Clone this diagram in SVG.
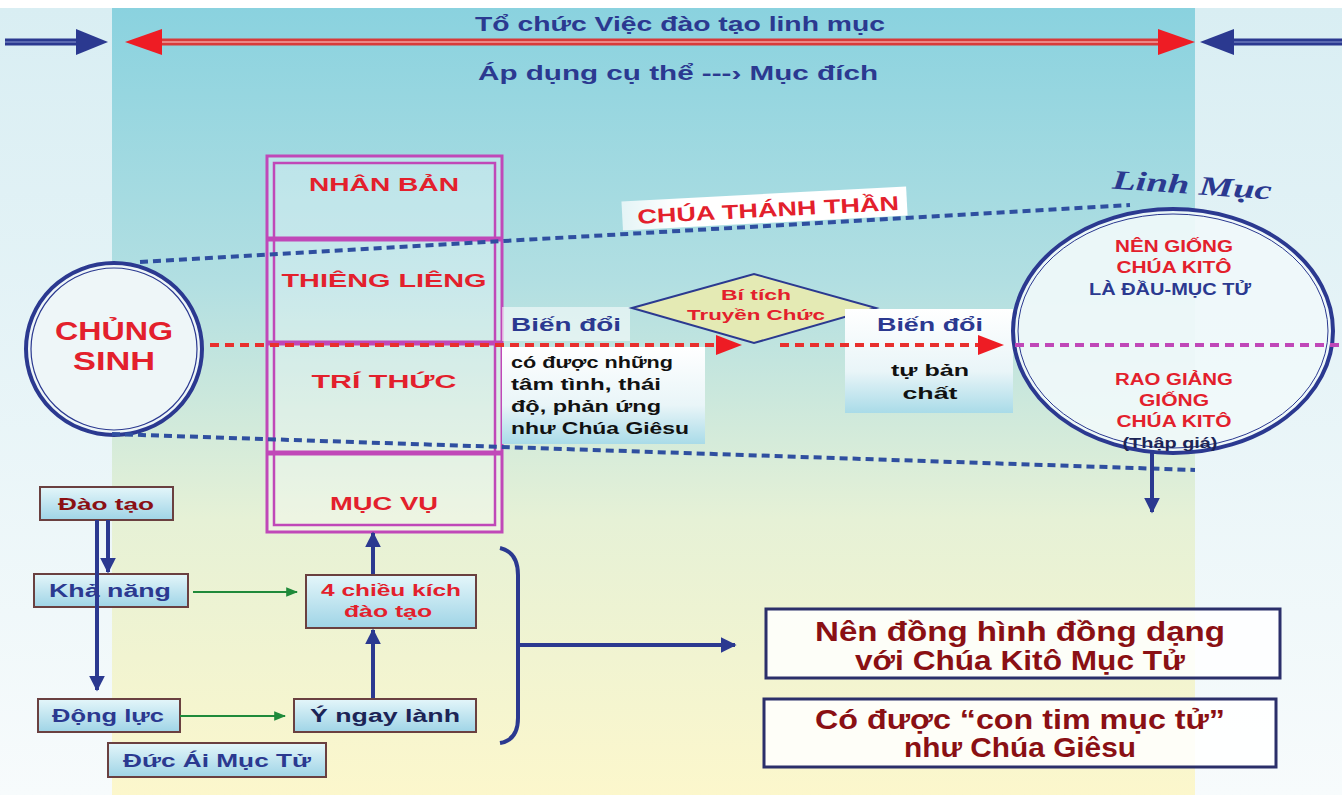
<svg xmlns="http://www.w3.org/2000/svg" width="1342" height="799" viewBox="0 0 1342 799">
<defs>
  <linearGradient id="bgMain" x1="0" y1="0" x2="0" y2="1">
    <stop offset="0" stop-color="#8ad2df"/>
    <stop offset="0.35" stop-color="#b2dfe2"/>
    <stop offset="0.65" stop-color="#e6f1d6"/>
    <stop offset="1" stop-color="#fcf7cc"/>
  </linearGradient>
  <linearGradient id="bgSide" x1="0" y1="0" x2="0" y2="1">
    <stop offset="0" stop-color="#d9eef3"/>
    <stop offset="1" stop-color="#f7fbfc"/>
  </linearGradient>
  <linearGradient id="boxFill" x1="0" y1="0" x2="0" y2="1">
    <stop offset="0" stop-color="#e4f6fa"/>
    <stop offset="1" stop-color="#9fd4e6"/>
  </linearGradient>
  <linearGradient id="textBox" x1="0" y1="0" x2="0" y2="1">
    <stop offset="0" stop-color="#ffffff"/>
    <stop offset="0.6" stop-color="#e9f5f8"/>
    <stop offset="1" stop-color="#a9dbe8"/>
  </linearGradient>
  <linearGradient id="banner" x1="0" y1="0" x2="1" y2="0">
    <stop offset="0" stop-color="#ffffff" stop-opacity="0.7"/>
    <stop offset="0.2" stop-color="#ffffff"/>
    <stop offset="1" stop-color="#ffffff"/>
  </linearGradient>
  <marker id="navyHead" viewBox="0 0 10 10" refX="9" refY="5" markerWidth="4" markerHeight="4" orient="auto">
    <path d="M0,0 L10,5 L0,10 z" fill="#2b3990"/>
  </marker>
  <marker id="greenHead" viewBox="0 0 10 10" refX="9" refY="5" markerWidth="6" markerHeight="6" orient="auto">
    <path d="M0,1 L10,5 L0,9 z" fill="#1f8a3a"/>
  </marker>
</defs>
<style>
  .t { font-family: "Liberation Sans", Arial, sans-serif; font-weight: bold; text-anchor: middle; }
  .st { text-anchor: start; }
  .red { fill: #e3202c; }
  .dred { fill: #8a1014; }
  .blk { fill: #111111; }
  .blu { fill: #2b3990; }
  .bdot { fill: none; stroke: #2f4fa0; stroke-width: 4; stroke-dasharray: 8 5; }
  .rdot { fill: none; stroke: #e8302e; stroke-width: 4; stroke-dasharray: 9 6; }
  .mdot { fill: none; stroke: #c048b8; stroke-width: 4; stroke-dasharray: 9 6; }
  .sbox { fill: url(#boxFill); stroke: #6a4040; stroke-width: 2; }
  .bigbox { fill: #ffffff; fill-opacity: 0.85; stroke: #2b2f6a; stroke-width: 3; }
  .navyline { stroke: #2b3990; stroke-width: 4; fill: none; }
  .greenline { stroke: #1f8a3a; stroke-width: 2; fill: none; }
</style>

<!-- background -->
<rect x="0" y="0" width="1342" height="799" fill="#ffffff"/>
<rect x="0" y="8" width="112" height="787" fill="url(#bgSide)"/>
<rect x="1195" y="8" width="147" height="787" fill="url(#bgSide)"/>
<rect x="112" y="8" width="1083" height="787" fill="url(#bgMain)"/>

<!-- header arrows -->
<g id="header">
  <line x1="155" y1="42" x2="1165" y2="42" stroke="#d83a3a" stroke-width="7"/>
  <line x1="155" y1="42" x2="1165" y2="42" stroke="#f2a0a0" stroke-width="1.5"/>
  <polygon points="125,42 162,29 162,55" fill="#ee1c24"/>
  <polygon points="1195,42 1158,29 1158,55" fill="#ee1c24"/>
  <line x1="5" y1="42" x2="80" y2="42" stroke="#2b3990" stroke-width="7"/>
  <line x1="5" y1="42" x2="80" y2="42" stroke="#8a9ad0" stroke-width="1.2"/>
  <polygon points="108,42 76,29 76,55" fill="#2b3990"/>
  <line x1="1232" y1="42" x2="1342" y2="42" stroke="#2b3990" stroke-width="7"/>
  <line x1="1232" y1="42" x2="1342" y2="42" stroke="#8a9ad0" stroke-width="1.2"/>
  <polygon points="1200,42 1234,29 1234,55" fill="#2b3990"/>
  <text class="t blu" x="680" y="31" font-size="20" textLength="410" lengthAdjust="spacingAndGlyphs">Tổ chức Việc đào tạo linh mục</text>
  <text class="t blu" x="678" y="80" font-size="20" textLength="400" lengthAdjust="spacingAndGlyphs">Áp dụng cụ thể ---› Mục đích</text>
</g>

<!-- stacked dimensions -->
<g id="dimensions">
  <rect x="267" y="156" width="235" height="376" fill="#ffffff" fill-opacity="0.3" stroke="#c048b8" stroke-width="3"/>
  <rect x="274" y="163" width="221" height="362" fill="none" stroke="#c048b8" stroke-width="2.5"/>
  <line x1="267" y1="239" x2="502" y2="239" stroke="#c048b8" stroke-width="5"/>
  <line x1="267" y1="343" x2="502" y2="343" stroke="#c048b8" stroke-width="5"/>
  <line x1="267" y1="453" x2="502" y2="453" stroke="#c048b8" stroke-width="5"/>
  <text class="t red" x="384" y="191" font-size="19" textLength="150" lengthAdjust="spacingAndGlyphs">NHÂN BẢN</text>
  <text class="t red" x="384" y="287" font-size="19" textLength="205" lengthAdjust="spacingAndGlyphs">THIÊNG LIÊNG</text>
  <text class="t red" x="384" y="388" font-size="19" textLength="145" lengthAdjust="spacingAndGlyphs">TRÍ THỨC</text>
  <text class="t red" x="384" y="510" font-size="19" textLength="108" lengthAdjust="spacingAndGlyphs">MỤC VỤ</text>
</g>

<!-- Chủng sinh -->
<g id="chungsinh">
  <ellipse cx="114" cy="349" rx="88" ry="86" fill="#eef6f8" stroke="#2b3990" stroke-width="4"/>
  <ellipse cx="114" cy="349" rx="83" ry="81" fill="none" stroke="#2b3990" stroke-width="1.2"/>
  <text class="t red" x="114" y="340" font-size="25" textLength="118" lengthAdjust="spacingAndGlyphs">CHỦNG</text>
  <text class="t red" x="114" y="370" font-size="25" textLength="82" lengthAdjust="spacingAndGlyphs">SINH</text>
</g>

<!-- Chúa Thánh Thần banner -->
<g id="chuathanhthan" transform="rotate(-3 764 208)">
  <rect x="622" y="194" width="285" height="29" fill="url(#banner)"/>
  <text class="t red" x="768" y="217" font-size="20" textLength="262" lengthAdjust="spacingAndGlyphs">CHÚA THÁNH THẦN</text>
</g>

<!-- Biến đổi left -->
<g id="biendoi1">
  <rect x="502" y="307" width="128" height="34" fill="#ffffff" fill-opacity="0.55"/>
  <text class="t blu" x="566" y="331" font-size="18" textLength="110" lengthAdjust="spacingAndGlyphs">Biến đổi</text>
</g>
<g id="camtinh">
  <rect x="502" y="347" width="203" height="97" fill="url(#textBox)"/>
  <text class="t blk st" x="511" y="368" font-size="17" textLength="162" lengthAdjust="spacingAndGlyphs">có được những</text>
  <text class="t blk st" x="511" y="390" font-size="17" textLength="150" lengthAdjust="spacingAndGlyphs">tâm tình, thái</text>
  <text class="t blk st" x="511" y="412" font-size="17" textLength="150" lengthAdjust="spacingAndGlyphs">độ, phản ứng</text>
  <text class="t blk st" x="511" y="434" font-size="17" textLength="178" lengthAdjust="spacingAndGlyphs">như Chúa Giêsu</text>
</g>

<!-- Diamond -->
<g id="bitich">
  <polygon points="632,308 754,274 876,308 754,343" fill="#e4eab4" stroke="#2b3990" stroke-width="2"/>
  <text class="t red" x="756" y="300" font-size="15" textLength="70" lengthAdjust="spacingAndGlyphs">Bí tích</text>
  <text class="t red" x="756" y="320" font-size="15" textLength="138" lengthAdjust="spacingAndGlyphs">Truyền Chức</text>
</g>

<!-- Biến đổi right -->
<g id="biendoi2">
  <rect x="845" y="309" width="168" height="104" fill="url(#textBox)"/>
  <text class="t blu" x="930" y="331" font-size="18" textLength="106" lengthAdjust="spacingAndGlyphs">Biến đổi</text>
  <text class="t blk" x="930" y="376" font-size="17" textLength="78" lengthAdjust="spacingAndGlyphs">tự bản</text>
  <text class="t blk" x="930" y="399" font-size="17" textLength="55" lengthAdjust="spacingAndGlyphs">chất</text>
</g>

<!-- Linh mục -->
<g id="linhmuc">
  <ellipse cx="1173" cy="331" rx="160" ry="122" fill="#f0f8fa" fill-opacity="0.92" stroke="#2b3990" stroke-width="4"/>
  <ellipse cx="1173" cy="331" rx="155" ry="117" fill="none" stroke="#2b3990" stroke-width="1"/>
  <text class="t red" x="1174" y="252" font-size="16" textLength="118" lengthAdjust="spacingAndGlyphs">NÊN GIỐNG</text>
  <text class="t red" x="1174" y="273" font-size="16" textLength="115" lengthAdjust="spacingAndGlyphs">CHÚA KITÔ</text>
  <text class="t blu" x="1170" y="295" font-size="16" textLength="162" lengthAdjust="spacingAndGlyphs">LÀ ĐẦU-MỤC TỬ</text>
  <text class="t red" x="1174" y="385" font-size="16" textLength="118" lengthAdjust="spacingAndGlyphs">RAO GIẢNG</text>
  <text class="t red" x="1174" y="406" font-size="16" textLength="70" lengthAdjust="spacingAndGlyphs">GIỐNG</text>
  <text class="t red" x="1174" y="427" font-size="16" textLength="115" lengthAdjust="spacingAndGlyphs">CHÚA KITÔ</text>
  <text class="t" x="1170" y="448" font-size="15" fill="#1c2456" textLength="95" lengthAdjust="spacingAndGlyphs">(Thập giá)</text>
  <text x="1192" y="194" font-family="'Liberation Serif', 'Times New Roman', serif" font-weight="bold" font-style="italic" font-size="27" fill="#2b3990" text-anchor="middle" transform="rotate(4 1192 186)" textLength="160" lengthAdjust="spacingAndGlyphs">Linh Mục</text>
</g>

<!-- bottom left small boxes -->
<g id="daotao">
  <rect class="sbox" x="40" y="487" width="133" height="33"/>
  <text class="t dred" x="106" y="510" font-size="17" textLength="96" lengthAdjust="spacingAndGlyphs">Đào tạo</text>
</g>
<g id="khanang">
  <rect class="sbox" x="34" y="574" width="154" height="33"/>
  <text class="t blu" x="110" y="597" font-size="18" textLength="122" lengthAdjust="spacingAndGlyphs">Khả năng</text>
</g>
<g id="dongluc">
  <rect class="sbox" x="38" y="699" width="142" height="33"/>
  <text class="t blu" x="108" y="722" font-size="18" textLength="112" lengthAdjust="spacingAndGlyphs">Động lực</text>
</g>
<g id="ducai">
  <rect class="sbox" x="108" y="743" width="218" height="34"/>
  <text class="t blu" x="217" y="767" font-size="18" textLength="188" lengthAdjust="spacingAndGlyphs">Đức Ái Mục Tử</text>
</g>
<g id="bonchieukich">
  <rect class="sbox" x="306" y="575" width="170" height="53"/>
  <text class="t red" x="391" y="596" font-size="16" textLength="140" lengthAdjust="spacingAndGlyphs">4 chiều kích</text>
  <text class="t red" x="388" y="617" font-size="16" textLength="88" lengthAdjust="spacingAndGlyphs">đào tạo</text>
</g>
<g id="ynaylanh">
  <rect class="sbox" x="294" y="699" width="182" height="33"/>
  <text class="t" x="385" y="722" font-size="18" fill="#1c2456" textLength="150" lengthAdjust="spacingAndGlyphs">Ý ngay lành</text>
</g>

<!-- right result boxes -->
<g id="donghinh">
  <rect class="bigbox" x="766" y="609" width="514" height="69"/>
  <text class="t dred" x="1020" y="641" font-size="27" textLength="410" lengthAdjust="spacingAndGlyphs">Nên đồng hình đồng dạng</text>
  <text class="t dred" x="1020" y="670" font-size="27" textLength="330" lengthAdjust="spacingAndGlyphs">với Chúa Kitô Mục Tử</text>
</g>
<g id="context">
  <rect class="bigbox" x="764" y="699" width="512" height="68"/>
  <text class="t dred" x="1020" y="729" font-size="27" textLength="410" lengthAdjust="spacingAndGlyphs">Có được “con tim mục tử”</text>
  <text class="t dred" x="1020" y="757" font-size="27" textLength="232" lengthAdjust="spacingAndGlyphs">như Chúa Giêsu</text>
</g>

<!-- connectors -->
<g id="connectors">
  <path class="bdot" d="M140,262 L1130,205"/>
  <path class="bdot" d="M112,434 L1195,470"/>
  <path class="rdot" d="M210,345 L720,345"/>
  <polygon points="742,345 716,335 716,355" fill="#ee1c24"/>
  <path class="rdot" d="M780,345 L980,345"/>
  <polygon points="1004,345 978,335 978,355" fill="#ee1c24"/>
  <path class="mdot" d="M1015,345 L1342,345"/>
  <line class="navyline" x1="1152" y1="453" x2="1152" y2="512" stroke-width="3" marker-end="url(#navyHead)"/>
  <line class="navyline" x1="97" y1="520" x2="97" y2="690" marker-end="url(#navyHead)"/>
  <line class="navyline" x1="108" y1="520" x2="108" y2="572" stroke-width="3" marker-end="url(#navyHead)"/>
  <line class="greenline" x1="193" y1="592" x2="297" y2="592" marker-end="url(#greenHead)"/>
  <line class="greenline" x1="180" y1="716" x2="285" y2="716" marker-end="url(#greenHead)"/>
  <line class="navyline" x1="373" y1="698" x2="373" y2="630" marker-end="url(#navyHead)"/>
  <line class="navyline" x1="373" y1="574" x2="373" y2="533" marker-end="url(#navyHead)"/>
  <path class="navyline" d="M500,548 Q518,552 518,575 L518,718 Q518,740 500,743"/>
  <line class="navyline" x1="518" y1="645" x2="735" y2="645" marker-end="url(#navyHead)"/>
</g>
</svg>
